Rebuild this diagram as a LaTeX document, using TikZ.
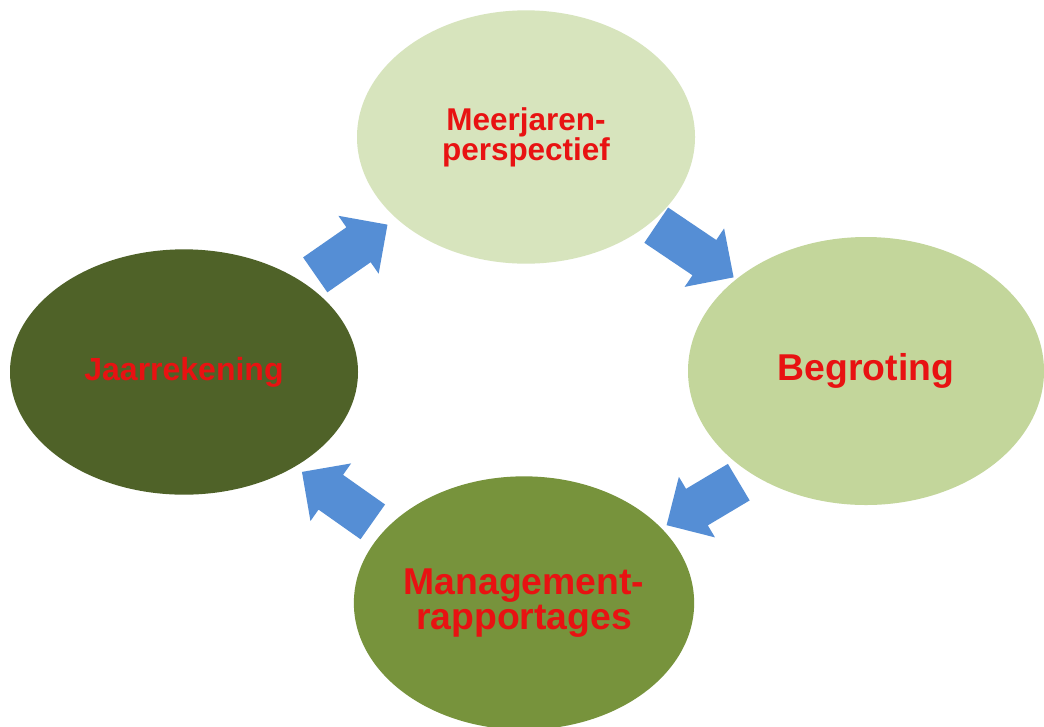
\documentclass[tikz,border=0pt]{standalone}
\usepackage{fontspec}
\setmainfont{Liberation Sans}
\usetikzlibrary{shapes.geometric,shapes.arrows}
\definecolor{ctop}{HTML}{D7E4BD}
\definecolor{cright}{HTML}{C3D69B}
\definecolor{cbottom}{HTML}{77933C}
\definecolor{cleft}{HTML}{4F6228}
\definecolor{cblue}{HTML}{558ED5}
\definecolor{ctext}{RGB}{232,18,18}
\tikzset{
  phase/.style={ellipse, inner sep=0pt, draw=none, text=ctext, align=center, font=\bfseries},
  flow/.style={single arrow, fill=cblue, draw=none, inner xsep=0pt, inner ysep=15.75pt,
    single arrow tip angle=90, single arrow head extend=10.5pt,
    minimum width=0pt, anchor=tail}
}
\begin{document}
\begin{tikzpicture}[x=0.75pt,y=-0.75pt]
\useasboundingbox[fill=white] (0,0) rectangle (1044,726);
\node[phase, fill=ctop, minimum width=253.5pt, minimum height=190pt,
  font=\bfseries\fontsize{23.6pt}{22.5pt}\selectfont] (mjp) at (526,137) {Meerjaren-\\perspectief};
\node[phase, fill=cright, minimum width=267pt, minimum height=201pt,
  font=\bfseries\fontsize{28pt}{26pt}\selectfont] (beg) at (866,371) {Begroting};
\node[phase, fill=cbottom, minimum width=252pt, minimum height=190pt,
  font=\bfseries\fontsize{28pt}{26.3pt}\selectfont] (mr) at (524,603) {Management-\\rapportages};
\node[phase, fill=cleft, minimum width=261pt, minimum height=184pt,
  font=\bfseries\fontsize{24pt}{24pt}\selectfont] (jr) at (184,372) {Jaarrekening};
\node[flow, rotate=34.8, minimum height=66pt] (a1) at (315,275) {};
\node[flow, rotate=-34, minimum height=70pt] (a2) at (656,225) {};
\node[flow, rotate=210.8, minimum height=63pt] (a3) at (739,482) {};
\node[flow, rotate=144.8, minimum height=65pt] (a4) at (373,522) {};
\end{tikzpicture}
\end{document}
